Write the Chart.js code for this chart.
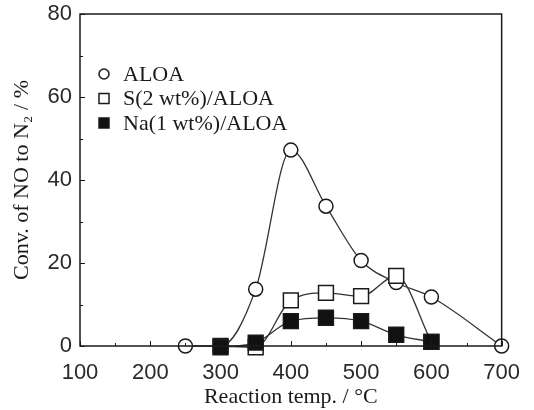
<!DOCTYPE html>
<html>
<head>
<meta charset="utf-8">
<script src="https://cdn.jsdelivr.net/npm/chart.js@4/dist/chart.umd.min.js"></script>
<style>
  html, body { margin: 0; padding: 0; background: #fff; }
  #wrap { width: 534px; height: 410px; }
</style>
</head>
<body>
<div id="wrap"><canvas id="chart"></canvas></div>
<script>
// temperatures (°C)
const tempsAloa = [250, 300, 350, 400, 450, 500, 550, 600, 700];
const tempsDoped = [300, 350, 400, 450, 500, 550, 600];

// conversion of NO to N2 (%)
const aloa = [0, 0, 13.7, 47.2, 33.7, 20.6, 15.3, 11.8, 0];
const sAloa = [0, -0.3, 11.0, 12.8, 12.0, 16.9, 1.0];
const naAloa = [-0.3, 0.8, 6.0, 6.8, 6.0, 2.7, 1.0];

const seriesNames = ["ALOA", "S(2 wt%)/ALOA", "Na(1 wt%)/ALOA"];
const xTicks = [100, 200, 300, 400, 500, 600, 700];
const yTicks = [0, 20, 40, 60, 80];

const ink = "#1a1a1a";
const tickInk = "#2a2a2a";
const lineInk = "#333";
const serif = "'Liberation Serif', 'DejaVu Serif', serif";
const sans = "'Liberation Sans', Arial, sans-serif";

function pts(xs, ys) {
  return xs.map((x, i) => ({ x: x, y: ys[i] }));
}

// box round the plot, inward ticks, and legend inside the plot
const framePlugin = {
  id: "frame",
  afterDraw(chart) {
    const ctx = chart.ctx;
    const a = chart.chartArea;
    const xs = chart.scales.x, ys = chart.scales.y;
    ctx.save();
    ctx.strokeStyle = ink;
    ctx.lineWidth = 1.5;
    ctx.strokeRect(a.left, a.top, a.right - a.left, a.bottom - a.top);
    ctx.lineWidth = 1;
    for (let v = 100; v <= 700; v += 50) {
      const px = Math.round(xs.getPixelForValue(v)) + 0.5;
      const len = v % 100 === 0 ? 5 : 3;
      ctx.beginPath(); ctx.moveTo(px, a.bottom); ctx.lineTo(px, a.bottom - len); ctx.stroke();
    }
    for (let v = 0; v <= 80; v += 10) {
      const py = Math.round(ys.getPixelForValue(v)) + 0.5;
      const len = v % 20 === 0 ? 5 : 3;
      ctx.beginPath(); ctx.moveTo(a.left, py); ctx.lineTo(a.left + len, py); ctx.stroke();
    }

    // legend
    const lx = a.left + 24, ly = a.top + 60, gap = 24.5;
    ctx.font = "22px " + serif;
    ctx.textBaseline = "middle";
    chart.data.datasets.forEach((ds, i) => {
      const y = ly + i * gap;
      ctx.lineWidth = 1.5;
      ctx.strokeStyle = ink;
      ctx.fillStyle = ds.pointBackgroundColor;
      if (ds.pointStyle === "circle") {
        ctx.beginPath(); ctx.arc(lx, y, 5, 0, Math.PI * 2); ctx.fill(); ctx.stroke();
      } else {
        ctx.fillRect(lx - 5, y - 5, 10, 10); ctx.strokeRect(lx - 5, y - 5, 10, 10);
      }
      ctx.fillStyle = ink;
      ctx.fillText(ds.label, lx + 19, y + 1);
    });
    ctx.restore();
  }
};

const chart = new Chart(document.getElementById("chart"), {
  type: "line",
  data: {
    datasets: [
      {
        label: seriesNames[0],
        data: pts(tempsAloa, aloa),
        borderColor: lineInk,
        borderWidth: 1.3,
        pointStyle: "circle",
        pointRadius: 7,
        pointBorderWidth: 1.5,
        pointBorderColor: ink,
        pointBackgroundColor: "#fff",
        cubicInterpolationMode: "monotone",
        clip: false,
        order: 2
      },
      {
        label: seriesNames[1],
        data: pts(tempsDoped, sAloa),
        borderColor: lineInk,
        borderWidth: 1.3,
        pointStyle: "rect",
        pointRadius: 10.5,
        pointBorderWidth: 1.5,
        pointBorderColor: ink,
        pointBackgroundColor: "#fff",
        cubicInterpolationMode: "monotone",
        clip: false,
        order: 1
      },
      {
        label: seriesNames[2],
        data: pts(tempsDoped, naAloa),
        borderColor: lineInk,
        borderWidth: 1.3,
        pointStyle: "rect",
        pointRadius: 10.5,
        pointBorderWidth: 1.5,
        pointBorderColor: ink,
        pointBackgroundColor: "#111",
        cubicInterpolationMode: "monotone",
        clip: false,
        order: 0
      }
    ]
  },
  options: {
    responsive: true,
    maintainAspectRatio: false,
    animation: false,
    layout: { padding: { top: 14, right: 31, left: 0, bottom: 0 } },
    plugins: { legend: { display: false }, tooltip: { enabled: false } },
    scales: {
      x: {
        type: "linear",
        min: 100,
        max: 700,
        afterBuildTicks: (s) => { s.ticks = xTicks.map(v => ({ value: v })); },
        afterFit: (s) => { s.height = 64; },
        grid: { display: false, drawTicks: false },
        border: { display: false },
        ticks: { color: tickInk, font: { family: sans, size: 22 }, padding: 14, maxRotation: 0 },
        title: {
          display: true,
          text: "Reaction temp. / °C",
          color: ink,
          font: { family: serif, size: 22 },
          padding: { top: 0, bottom: 0 }
        }
      },
      y: {
        min: 0,
        max: 80,
        afterBuildTicks: (s) => { s.ticks = yTicks.map(v => ({ value: v })); },
        afterFit: (s) => { s.width = 80; s.paddingTop = 0; s.paddingBottom = 0; },
        grid: { display: false, drawTicks: false },
        border: { display: false },
        ticks: { color: tickInk, font: { family: sans, size: 22 }, padding: 8 },
        title: {
          display: true,
          text: "Conv. of NO to N\u2082 / %",
          color: ink,
          font: { family: serif, size: 22 },
          padding: { top: 9, bottom: 0 }
        }
      }
    }
  },
  plugins: [framePlugin]
});
</script>
</body>
</html>
